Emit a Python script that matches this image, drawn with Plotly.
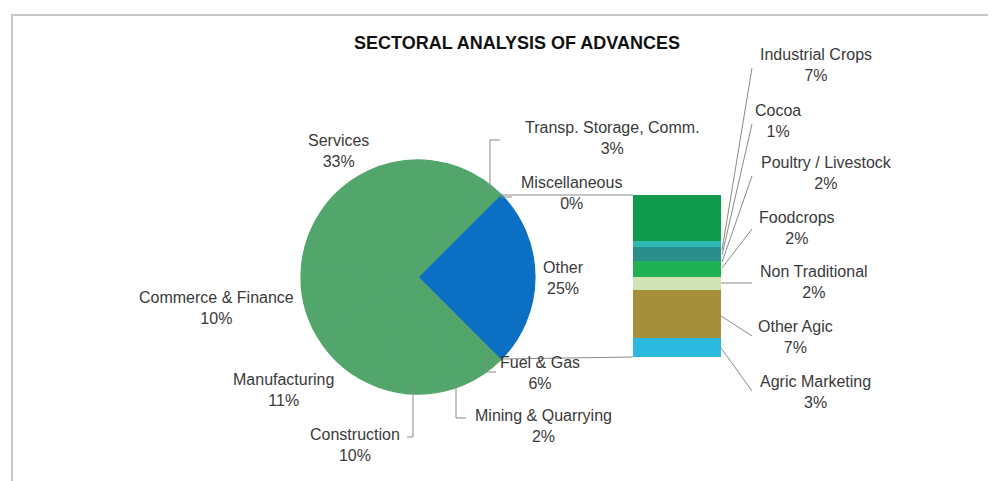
import plotly.graph_objects as go

W, H = 996, 481
OFFSET = 8  # page body margin in the browser

# main pie (percent of total advances)
pie_labels = ["Other", "Miscellaneous", "Transp. Storage, Comm.", "Services",
              "Commerce & Finance", "Manufacturing", "Construction",
              "Mining & Quarrying", "Fuel & Gas"]
pie_values = [25, 0.0, 3, 33, 10, 11, 10, 2, 6]

# breakdown of "Other" (top to bottom in the bar)
agric_labels = ["Industrial Crops", "Cocoa", "Poultry / Livestock", "Foodcrops",
                "Non Traditional", "Other Agic", "Agric Marketing"]
agric_values = [7.1, 1.0, 2.1, 2.5, 2.0, 7.3, 3.0]

PIE_GREEN = "#52a66c"
OTHER_BLUE = "#0b70c4"
agric_colors = ["#0f9a4c", "#2eb8b4", "#2a8e8b", "#1fb154", "#cfe3b4", "#a68f3a", "#2bb9e0"]

FONT = "Liberation Sans, Arial, sans-serif"
TXT = "#3a3a3a"
LINE = "#8a8a8a"


def pp(x, y):
    return (x - OFFSET) / W, 1 - (y - OFFSET) / H


fig = go.Figure()

# pie: Other slice centred on the right, the rest running counterclockwise
cx, cy, r = 418, 277, 117
x0, y1 = pp(cx - r, cy - r)
x1, y0 = pp(cx + r, cy + r)
slice_colors = [OTHER_BLUE] + [PIE_GREEN] * (len(pie_labels) - 1)
fig.add_trace(go.Pie(
    labels=pie_labels,
    values=pie_values,
    sort=False,
    direction="counterclockwise",
    rotation=45,
    marker=dict(colors=slice_colors, line=dict(color=slice_colors, width=1.2)),
    textinfo="none",
    hoverinfo="label+percent",
    showlegend=False,
    domain=dict(x=[x0, x1], y=[y0, y1]),
))

# stacked bar for the breakdown, bottom segment first
for name, val, col in reversed(list(zip(agric_labels, agric_values, agric_colors))):
    fig.add_trace(go.Bar(
        x=["Other"], y=[val], name=name,
        marker=dict(color=col, line=dict(width=0)),
        showlegend=False, hoverinfo="name+y",
    ))

bx0, by0 = pp(633, 357)
bx1, by1 = pp(721, 195)
fig.update_layout(
    barmode="stack",
    bargap=0,
    xaxis=dict(domain=[bx0, bx1], visible=False, fixedrange=True),
    yaxis=dict(domain=[by0, by1], range=[0, sum(agric_values)], visible=False,
               fixedrange=True),
)

# label positions (pixel centres), keyed by name
label_pos = {
    "Services": (338, 151), "Transp. Storage, Comm.": (612, 138),
    "Miscellaneous": (571, 193), "Other": (563, 278),
    "Commerce & Finance": (216, 308), "Manufacturing": (283, 390),
    "Construction": (355, 445), "Mining & Quarrying": (543, 426),
    "Fuel & Gas": (540, 373),
    "Industrial Crops": (816, 65), "Cocoa": (778, 121),
    "Poultry / Livestock": (826, 173), "Foodcrops": (797, 228),
    "Non Traditional": (814, 282), "Other Agic": (795, 337),
    "Agric Marketing": (815, 392),
}

total = sum(pie_values)
annotations = []
for name, val in list(zip(pie_labels, pie_values)) + list(zip(agric_labels, agric_values)):
    lx, ly = pp(*label_pos[name])
    annotations.append(dict(
        x=lx, y=ly, xref="paper", yref="paper", showarrow=False,
        xanchor="center", yanchor="middle",
        text=f"{name}<br>{round(val / total * 100):.0f}%",
        font=dict(family=FONT, size=16, color=TXT), align="center",
    ))

tx, ty = pp(517, 43)
annotations.append(dict(
    x=tx, y=ty, xref="paper", yref="paper", showarrow=False,
    xanchor="center", yanchor="middle",
    text="<b>SECTORAL ANALYSIS OF ADVANCES</b>",
    font=dict(family=FONT, size=18, color="#111"),
))

# leader lines and pie-to-bar connectors (pixel polylines)
leaders = [
    [(500, 195), (633, 195)], [(500, 359), (633, 357)],
    [(490, 192), (490, 140), (500, 140)],
    [(500, 197), (512, 197)],
    [(413, 387), (413, 437), (407, 437)],
    [(456, 384), (456, 418), (466, 418)],
    [(487, 357), (487, 372), (496, 372)],
    [(722, 250), (752, 68)], [(722, 255), (752, 124)],
    [(722, 262), (752, 176)], [(722, 268), (752, 229)],
    [(721, 283), (752, 283)], [(721, 316), (752, 336)],
    [(721, 348), (752, 391)],
]
shapes = []
for pts in leaders:
    path = "M " + " L ".join(f"{pp(x, y)[0]:.4f},{pp(x, y)[1]:.4f}" for x, y in pts)
    shapes.append(dict(type="path", path=path, xref="paper", yref="paper",
                       line=dict(color=LINE, width=1)))

# chart frame (top and left edges)
fx, fy = pp(12, 15)
shapes.append(dict(type="path", xref="paper", yref="paper",
                   path=f"M {fx:.4f},0 L {fx:.4f},{fy:.4f} L 1,{fy:.4f}",
                   line=dict(color="#c8c8c8", width=2)))

fig.update_layout(
    width=W, height=H,
    margin=dict(l=0, r=0, t=0, b=0),
    paper_bgcolor="white",
    plot_bgcolor="white",
    annotations=annotations,
    shapes=shapes,
)

fig.write_html("out.html")
